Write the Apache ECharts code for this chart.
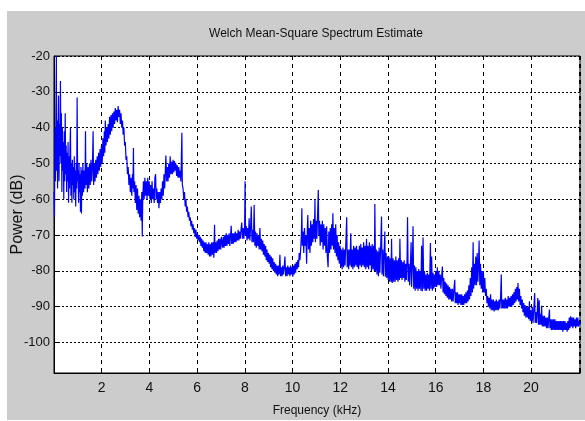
<!DOCTYPE html>
<html>
<head>
<meta charset="utf-8">
<script src="https://cdn.jsdelivr.net/npm/echarts@6/dist/echarts.min.js"></script>
<style>
html,body{margin:0;padding:0;background:#ffffff;width:585px;height:421px;overflow:hidden;}
#c{position:absolute;left:7px;top:11px;width:578px;height:409px;}
</style>
</head>
<body>
<div id="c"></div>
<script>
// ---- data: [frequency kHz, power dB] ----
const band0to2 = [[0.00,-58],[0.02,-65],[0.04,-40],[0.06,-55],[0.08,-35],[0.10,-20],[0.11,-52],[0.13,-38],[0.15,-57],[0.17,-42],[0.19,-31],[0.21,-55],[0.23,-39],[0.25,-48],[0.27,-27],[0.29,-50],[0.31,-36],[0.33,-58],[0.35,-40],[0.37,-52],[0.39,-44],[0.41,-60],[0.43,-41],[0.45,-55],[0.47,-36],[0.49,-53],
[0.51,-45],[0.53,-58],[0.55,-47],[0.57,-55],[0.59,-44],[0.61,-61],[0.63,-48],[0.65,-57],[0.67,-46],[0.69,-40],[0.71,-59],[0.73,-50],[0.75,-61],[0.77,-49],[0.79,-56],[0.81,-51],[0.83,-60],[0.85,-48],[0.87,-58],[0.89,-52],[0.91,-62],[0.93,-50],[0.95,-57],[0.97,-31.6],[0.99,-55],[1.01,-52],[1.03,-61],[1.05,-50],[1.07,-58],[1.09,-53],[1.11,-63.5],[1.13,-51],[1.15,-64],[1.17,-52],[1.19,-59],
[1.21,-50],[1.24,-58],[1.27,-52],[1.30,-57],[1.32,-41],[1.34,-56],[1.37,-50],[1.40,-58],[1.43,-51],[1.46,-57],[1.49,-50],[1.52,-56],[1.55,-49],[1.58,-55],[1.61,-51],[1.64,-41],[1.66,-56],[1.69,-50],[1.72,-55],[1.75,-49],[1.78,-54],[1.81,-48],[1.84,-53],[1.87,-47],[1.90,-52],[1.93,-46],[1.96,-51]];
const band2to4 = [[1.99,-45],[2.02,-50],[2.05,-43],[2.08,-48],[2.11,-41],[2.13,-47],[2.15,-38],[2.18,-45],[2.21,-40],[2.24,-44],[2.27,-39],[2.30,-43],[2.33,-37],[2.36,-42],[2.39,-36.5],[2.42,-41],[2.45,-36],[2.48,-40],[2.51,-35.5],[2.54,-39],[2.57,-34.5],[2.60,-38],[2.63,-35],[2.66,-38.5],[2.69,-34],[2.72,-37],[2.75,-35],[2.78,-39],[2.81,-36],[2.84,-40],
[2.87,-38],[2.90,-42],[2.93,-40],[2.96,-45],[2.99,-44],[3.02,-49],[3.05,-48],[3.08,-53],[3.11,-51],[3.14,-56],[3.17,-53],
[3.20,-58],[3.23,-54],[3.26,-59],[3.29,-53],[3.31,-57],[3.33,-45.7],[3.35,-58],[3.38,-55],[3.41,-61],[3.44,-56],[3.47,-63],[3.50,-57],[3.53,-64],[3.56,-59],[3.59,-65],[3.62,-60],[3.65,-66],[3.68,-58],[3.70,-70.4],[3.72,-60],[3.75,-55],[3.78,-60],[3.81,-54],[3.84,-59],[3.87,-55],[3.90,-60],[3.93,-54],[3.96,-59]];
const band4to6 = [[3.99,-55],[4.02,-60],[4.05,-56],[4.08,-61],[4.11,-55],[4.14,-60],[4.17,-57],[4.20,-61],[4.23,-54],[4.26,-53],[4.28,-60],[4.31,-57],[4.34,-61],[4.37,-58],[4.40,-62.5],[4.43,-58],[4.46,-61],[4.49,-57],[4.52,-60],[4.55,-55],[4.58,-59],
[4.61,-53],[4.64,-57],[4.67,-51.5],[4.69,-47.8],[4.72,-55],[4.75,-51],[4.78,-55],[4.81,-50],[4.84,-54],[4.87,-48],[4.90,-53],[4.93,-49.5],[4.96,-53],[4.99,-49],[5.02,-52.5],[5.05,-49.3],[5.08,-52],[5.11,-50],[5.14,-53.5],[5.17,-50.5],[5.20,-54],[5.23,-51],[5.26,-54],[5.29,-52],[5.32,-55],
[5.36,-41.4],[5.38,-56],[5.41,-57],[5.44,-60],[5.47,-58],[5.50,-62],[5.53,-60],[5.56,-63.5],[5.59,-62],[5.62,-65],[5.65,-63.5],[5.68,-66],[5.71,-65],[5.74,-67.5],[5.77,-66],[5.80,-68.5],[5.83,-67],[5.86,-69.5],[5.89,-68],[5.92,-70.5],[5.95,-68.5],[5.98,-71]];
const band6to8 = [[6.01,-69.5],[6.04,-71.5],[6.07,-70],[6.10,-72],[6.13,-70.5],[6.16,-73],[6.19,-71],[6.22,-73.5],[6.25,-71.5],[6.28,-74.5],[6.31,-72],[6.34,-75],[6.37,-72],[6.40,-75],[6.43,-72.5],[6.46,-75.5],[6.49,-72],[6.52,-76],[6.55,-72.5],[6.58,-76],[6.61,-72],[6.64,-75.5],[6.67,-72],[6.70,-76.3],[6.73,-67.1],[6.75,-75],[6.78,-72],[6.81,-75],[6.84,-71.5],[6.87,-74.5],[6.90,-71],[6.93,-74],[6.96,-71],[6.99,-74],
[7.02,-70.5],[7.05,-70],[7.07,-73.5],[7.10,-70.5],[7.13,-73.5],[7.16,-70],[7.19,-73],[7.22,-69.5],[7.25,-73],[7.28,-70],[7.31,-72.5],[7.34,-69.5],[7.37,-73],[7.40,-70],[7.43,-67.4],[7.45,-72.5],[7.48,-69.5],[7.51,-72.5],[7.54,-69.5],[7.57,-72],[7.60,-69],[7.63,-72],[7.66,-69.5],[7.69,-71.5],[7.72,-68.5],[7.75,-71.5],[7.78,-69],[7.81,-71],[7.84,-68.5],[7.87,-66.5],[7.90,-71],[7.93,-68],[7.96,-71]];
const band8to10 = [[7.99,-68],[8.01,-55],[8.03,-70],[8.06,-67.5],[8.09,-71.5],[8.12,-68],[8.15,-71],[8.18,-65.3],[8.21,-71.5],[8.24,-68],[8.27,-62],[8.30,-72],[8.33,-68.5],[8.36,-72],[8.39,-61.6],[8.42,-73],[8.45,-69],[8.48,-73.5],[8.51,-69.5],[8.54,-73],[8.57,-70],[8.60,-74],[8.63,-68],[8.66,-74],[8.69,-71],
[8.72,-74.5],[8.75,-71.5],[8.78,-75.5],[8.81,-72.5],[8.84,-76],[8.87,-73],[8.90,-77],[8.93,-74],[8.96,-77.5],[8.99,-75],[9.02,-78],[9.05,-75.5],[9.08,-79],[9.11,-76],[9.14,-79.5],[9.17,-76.5],[9.20,-80],[9.23,-77.5],[9.26,-80.5],
[9.29,-78],[9.32,-81],[9.35,-78.5],[9.38,-81.5],[9.41,-78.5],[9.44,-81],[9.47,-75.5],[9.50,-81.5],[9.53,-79],[9.56,-81.5],[9.59,-78.5],[9.62,-81],[9.65,-79],[9.68,-76],[9.71,-81.5],[9.74,-79],[9.77,-81.5],[9.80,-78.5],[9.83,-81],[9.86,-79],[9.89,-81.5],[9.92,-78.5],[9.95,-81],[9.98,-79]];
const band10to12 = [[10.01,-81.6],[10.04,-78.5],[10.07,-81],[10.10,-78],[10.13,-80.5],[10.16,-77.5],[10.19,-79.5],[10.22,-77],[10.25,-79],[10.28,-75],[10.31,-77],
[10.34,-74],[10.37,-70],[10.39,-62.5],[10.41,-73],[10.44,-69],[10.47,-75],[10.50,-68],[10.53,-73],[10.56,-70],[10.59,-78],[10.62,-68],[10.64,-64.4],[10.67,-74],[10.70,-68],[10.73,-75],[10.76,-66],[10.79,-73],[10.82,-67],[10.85,-72],[10.88,-65.5],[10.91,-71],[10.94,-60.2],[10.96,-72],[10.99,-66],[11.02,-71],[11.05,-64],[11.08,-57.4],[11.10,-70],[11.13,-66],[11.16,-73],[11.19,-67],[11.22,-72],[11.25,-66],[11.28,-74],[11.31,-67],[11.34,-73],[11.37,-68],[11.40,-75],[11.43,-67.5],[11.46,-76],[11.49,-79],[11.52,-69],[11.55,-75],[11.58,-68],[11.61,-74],[11.64,-67],[11.67,-73],[11.69,-63.9],[11.72,-74],[11.75,-68],[11.78,-75],[11.81,-67],
[11.84,-76],[11.87,-70],[11.90,-77],[11.93,-72],[11.96,-78],[11.99,-73]];
const band12to14 = [[12.02,-79],[12.05,-74],[12.08,-79.5],[12.11,-73.5],[12.14,-79],[12.17,-74],[12.20,-78.5],[12.23,-73],[12.27,-65],[12.29,-79],[12.32,-74],[12.35,-79.5],[12.38,-74],[12.41,-78.5],[12.44,-69.5],[12.47,-79],[12.50,-74],[12.53,-79.5],[12.56,-73],[12.59,-79],[12.62,-73.5],[12.65,-78.5],[12.68,-73],[12.71,-79],[12.74,-74],[12.77,-79.5],[12.80,-73],[12.83,-78.5],[12.86,-72.5],[12.89,-79],[12.92,-73.5],[12.95,-78.5],[12.98,-72],[13.01,-79],[13.04,-73],[13.07,-79.5],[13.10,-71],[13.13,-79],[13.16,-73],[13.19,-79.5],[13.22,-72],[13.25,-78.5],[13.28,-73],[13.31,-80],[13.34,-72.5],[13.37,-79.5],[13.40,-73],[13.43,-80],[13.45,-61.3],[13.48,-80],
[13.51,-74],[13.54,-81],[13.57,-74.5],[13.60,-81.5],[13.63,-73.5],[13.66,-80.5],[13.69,-74],[13.73,-64.8],[13.75,-81],[13.78,-74],[13.81,-81.5],[13.84,-74.5],[13.87,-69],[13.89,-81.6],[13.92,-75],[13.95,-82],[13.98,-76]];
const band14to16 = [[14.01,-82.5],[14.04,-76],[14.07,-83],[14.10,-76.5],[14.13,-83],[14.15,-71],[14.18,-83.4],[14.21,-76.5],[14.24,-83],[14.27,-77],[14.30,-83],[14.33,-76],[14.36,-82.5],[14.39,-77],[14.42,-83],[14.45,-76.5],[14.48,-82.5],
[14.50,-71],[14.53,-82],[14.56,-77],[14.59,-82.5],[14.62,-77.5],[14.65,-82],[14.68,-77],[14.71,-83],[14.74,-78],[14.77,-82.5],[14.80,-77],[14.82,-65],[14.85,-83],[14.88,-78],[14.91,-84],[14.94,-78.5],[14.97,-72],[14.99,-84.5],[15.02,-79],[15.05,-67.5],[15.08,-85],[15.11,-78.5],[15.14,-85.5],[15.17,-79],[15.20,-85],[15.23,-80],[15.26,-85.5],[15.29,-79.5],
[15.32,-85],[15.35,-80],[15.38,-85.5],[15.41,-73],[15.44,-85.7],[15.47,-70.7],[15.50,-85],[15.53,-80],[15.56,-85.5],[15.59,-81],[15.62,-85.5],[15.65,-80.5],[15.68,-85],[15.71,-81],[15.74,-85.5],[15.78,-72.2],[15.80,-85],[15.83,-76],[15.86,-85.5],[15.89,-80.5],[15.92,-85],[15.95,-81],[15.98,-84.5]];
const band16to18 = [[16.01,-80],[16.04,-84.5],[16.07,-79],[16.10,-84],[16.13,-80],[16.16,-84],
[16.19,-81],[16.22,-85],[16.25,-81.5],[16.28,-78.8],[16.31,-86],[16.34,-82],[16.37,-86.5],[16.40,-83],[16.43,-87],[16.46,-83.5],[16.49,-87.5],[16.52,-84],[16.55,-88],[16.58,-84.5],[16.61,-88],[16.64,-85],[16.67,-88.5],[16.70,-85],[16.73,-88.5],[16.76,-85.5],[16.80,-82.5],[16.82,-89],[16.85,-86],[16.88,-89],[16.91,-86],[16.94,-89.5],[16.97,-86.5],[17.00,-89],[17.03,-86.5],[17.06,-89.5],[17.09,-86.5],[17.12,-89.5],[17.15,-87],[17.18,-89.5],[17.21,-86.5],[17.24,-89],[17.27,-86],[17.30,-89],[17.33,-85.5],[17.36,-88.5],[17.39,-84],[17.42,-88],
[17.45,-82],[17.48,-87],[17.51,-79],[17.54,-86],[17.57,-72],[17.59,-85],[17.62,-78],[17.65,-84],[17.68,-76],[17.71,-84],[17.74,-75],[17.77,-83],[17.80,-77],[17.82,-71.5],[17.85,-84],[17.88,-78],[17.91,-85],[17.94,-80],[17.97,-86]];
const band18to20 = [[18.00,-80],[18.03,-86],[18.06,-82],[18.09,-87],
[18.12,-85],[18.15,-89],[18.18,-87],[18.21,-90],[18.24,-87.5],[18.27,-90.5],[18.30,-86.5],[18.33,-91],[18.36,-88],[18.39,-91],[18.42,-88],[18.45,-91.3],[18.48,-88.5],[18.51,-91],[18.54,-88],[18.57,-91],[18.60,-88.5],[18.63,-91],[18.66,-88],[18.69,-90.5],[18.72,-87.5],[18.75,-81],[18.77,-90.5],[18.80,-88],[18.83,-90.5],[18.86,-88],[18.89,-90.5],[18.92,-87.5],[18.95,-90.5],[18.98,-88],[19.01,-90.5],[19.04,-87],[19.07,-90],[19.10,-87.5],[19.13,-90],[19.16,-87],[19.19,-90],[19.22,-86.5],[19.25,-89.5],[19.28,-86],[19.31,-89],
[19.34,-85],[19.37,-88.5],[19.40,-84.5],[19.43,-88],[19.45,-83.4],[19.48,-88.5],[19.51,-85],[19.54,-89.5],[19.57,-87],[19.60,-90.5],[19.63,-88],[19.66,-91.5],[19.69,-89],[19.72,-92.5],[19.75,-89.5],[19.78,-93],[19.81,-90],[19.84,-93],[19.87,-90],[19.90,-93.5],[19.93,-88.5],[19.96,-94],[19.99,-91]];
const band20to22 = [[20.02,-94],[20.05,-90],[20.08,-94.5],[20.11,-91],[20.15,-86.2],[20.17,-94.5],[20.20,-91.5],[20.23,-94.5],[20.26,-91],[20.28,-87.6],[20.31,-95],[20.34,-88.2],[20.36,-95],[20.39,-92],[20.42,-95],[20.44,-89.7],[20.47,-95.5],[20.50,-92.5],[20.53,-95.5],[20.56,-92.5],[20.59,-95.5],[20.62,-93],[20.65,-96],[20.68,-93],[20.71,-96],[20.74,-93],[20.77,-90.8],[20.79,-96],[20.82,-93.5],[20.85,-96.5],[20.88,-93.5],[20.91,-96.5],[20.94,-93.5],[20.97,-96.5],[21.00,-93.5],[21.03,-96.5],[21.06,-94],[21.09,-96.5],[21.12,-94],[21.15,-96.5],[21.18,-94],[21.21,-96.5],[21.24,-94],[21.27,-96.5],[21.30,-94],[21.33,-97],[21.36,-94],[21.39,-96.5],[21.42,-94],[21.45,-96.5],[21.48,-94.5],[21.51,-97],[21.54,-94],[21.57,-96.5],[21.60,-93],[21.63,-96],[21.66,-92.7],[21.69,-95.5],[21.72,-93],[21.75,-96],[21.78,-93],[21.81,-95.5],[21.84,-93.5],[21.87,-96],[21.90,-93],[21.93,-95.5],[21.96,-93],[21.99,-95.5],[22.02,-94],[22.05,-95]];

const xTickLabels = [2,4,6,8,10,12,14,16,18,20];
const yTickLabels = [-20,-30,-40,-50,-60,-70,-80,-90,-100];
const titleText = 'Welch Mean-Square Spectrum Estimate';
const xName = 'Frequency (kHz)';
const yName = 'Power (dB)';

const spectrum = [].concat(band0to2, band2to4, band4to6, band6to8, band8to10,
  band10to12, band12to14, band14to16, band16to18, band18to20, band20to22);

const FONT = "'Liberation Sans',Arial,sans-serif";

const chart = echarts.init(document.getElementById('c'), null, {renderer: 'canvas'});
chart.setOption({
  animation: false,
  backgroundColor: '#cccccc',
  title: {
    text: titleText, left: 309, top: 17, textAlign: 'center', padding: 0,
    textStyle: {fontFamily: FONT, fontSize: 12, fontWeight: 'normal', color: '#111111'}
  },
  grid: {left: 47, right: 5, top: 45, bottom: 47, show: true, backgroundColor: '#ffffff',
         borderColor: '#000000', borderWidth: 1, containLabel: false, outerBoundsMode: 'none'},
  xAxis: {
    type: 'value', min: 0, max: 22.05, interval: 2,
    name: xName, nameLocation: 'middle', nameGap: 32, nameMoveOverlap: false,
    nameTextStyle: {fontFamily: FONT, fontSize: 12, color: '#111111'},
    axisLine: {show: true, lineStyle: {color: '#000000', width: 1}},
    axisTick: {show: true, inside: true, length: 4, lineStyle: {color: '#000000'}},
    axisLabel: {margin: 8, fontFamily: FONT, fontSize: 14, color: '#111111',
      formatter: v => xTickLabels.indexOf(Math.round(v * 100) / 100) >= 0 ? String(v) : ''},
    splitLine: {show: true, lineStyle: {color: '#000000', width: 1, type: [4, 4]}}
  },
  yAxis: {
    type: 'value', min: -108.5, max: -20, splitNumber: 9, minInterval: 10, maxInterval: 10,
    name: yName, nameLocation: 'middle', nameGap: 28, nameMoveOverlap: false,
    nameTextStyle: {fontFamily: FONT, fontSize: 16, color: '#111111'},
    axisLine: {show: true, lineStyle: {color: '#000000', width: 1}},
    axisTick: {show: true, inside: true, length: 4, lineStyle: {color: '#000000'}},
    axisLabel: {margin: 4, fontFamily: FONT, fontSize: 13, color: '#111111',
      formatter: v => yTickLabels.indexOf(v) >= 0 ? String(v) : ''},
    splitLine: {show: true, lineStyle: {color: '#000000', width: 1, type: [2, 2]}}
  },
  series: [{
    type: 'line', data: spectrum, showSymbol: false, symbol: 'none', sampling: null,
    lineStyle: {color: '#0000ff', width: 1.2}, clip: true, z: 3
  }]
});
</script>
</body>
</html>
